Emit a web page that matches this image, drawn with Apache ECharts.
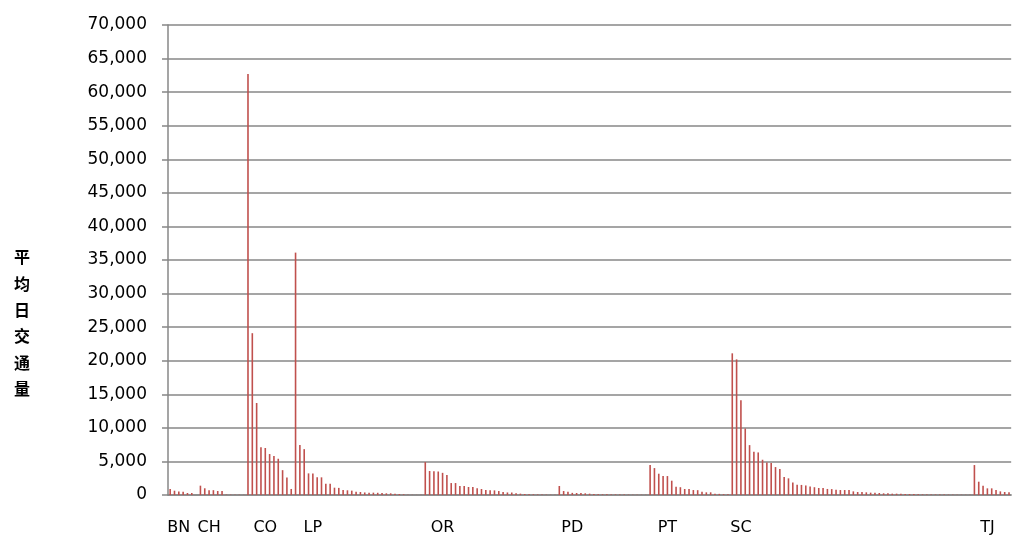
<!DOCTYPE html>
<html>
<head>
<meta charset="utf-8">
<script src="https://cdn.jsdelivr.net/npm/echarts@6/dist/echarts.min.js"></script>
<style>
  html, body { margin: 0; padding: 0; background: #fff; }
  #chart { width: 1012px; height: 536px; }
</style>
</head>
<body>
<div id="chart"></div>
<script>
// values per area, in category order (average daily traffic)
var bnValues = [890, 640, 520, 500, 300, 300, 0];
var chValues = [1390, 1000, 720, 720, 600, 600, 60, 50, 40, 40, 30];
var coValues = [62700, 24100, 13700, 7100, 7000, 6100, 5800, 5400, 3700, 2600, 900];
var lpValues = [36100, 7430, 6830, 3220, 3220, 2630, 2630, 1680, 1680, 1090, 1060, 740, 700, 650,
  470, 450, 380, 350, 350, 330, 300, 250, 250, 200, 150, 100, 40, 30, 20, 20];
var orValues = [4900, 3570, 3520, 3500, 3300, 2970, 1780, 1780, 1340, 1340, 1190, 1190, 990, 890,
  740, 690, 690, 590, 450, 380, 370, 250, 200, 150, 120, 100, 80, 60, 50, 40, 30];
var pdValues = [1340, 590, 500, 320, 300, 300, 250, 200, 150, 120, 100, 100, 80, 80, 60, 60, 50,
  50, 40, 40, 30];
var ptValues = [4460, 4010, 3170, 2820, 2820, 2130, 1240, 1160, 890, 890, 740, 720, 500, 400, 400,
  180, 170, 120, 100];
var scValues = [21100, 20200, 14100, 9900, 7430, 6440, 6340, 5250, 4850, 4750, 4160, 3860, 2670,
  2480, 1880, 1520, 1500, 1420, 1260, 1160, 1040, 1040, 900, 880, 790, 740, 740, 740, 540, 450,
  450, 400, 350, 350, 300, 250, 250, 200, 200, 200, 150, 150, 150, 100, 90, 80, 80, 70, 60, 60,
  50, 50, 40, 40, 30, 30];
var tjValues = [4460, 1980, 1390, 990, 990, 740, 540, 450, 400];

var groupNames = ['BN', 'CH', 'CO', 'LP', 'OR', 'PD', 'PT', 'SC', 'TJ'];
var groupValues = [bnValues, chValues, coValues, lpValues, orValues, pdValues, ptValues, scValues, tjValues];
// which category inside each group carries the group name
var labelSlot = [2, 2, 4, 4, 4, 3, 4, 2, 3];

var categories = [];
var values = [];
groupValues.forEach(function(g, gi) {
  g.forEach(function(v, i) {
    categories.push(i === labelSlot[gi] ? groupNames[gi] : '');
    values.push(v);
  });
});

var yTitle = '平均日交通量';

var chart = echarts.init(document.getElementById('chart'), null, { renderer: 'canvas' });
chart.setOption({
  animation: false,
  grid: { left: 168, right: 0, top: 25, bottom: 40 },
  graphic: [{
    type: 'text',
    left: 14,
    top: 244,
    style: {
      text: yTitle.split('').join('\n'),
      fontFamily: 'Noto Sans CJK SC',
      fontWeight: 'bold',
      fontSize: 16,
      lineHeight: 26.4,
      fill: '#000'
    }
  }],
  xAxis: {
    type: 'category',
    data: categories,
    axisLine: { lineStyle: { color: '#878787', width: 1.5 } },
    axisTick: { show: false },
    axisLabel: {
      interval: 0,
      color: '#000',
      fontFamily: 'DejaVu Sans',
      fontSize: 16,
      margin: 25
    }
  },
  yAxis: {
    type: 'value',
    min: 0,
    max: 70000,
    interval: 5000,
    axisLine: { show: true, lineStyle: { color: '#878787', width: 1.5 } },
    axisTick: { show: true, length: 6, lineStyle: { color: '#878787', width: 1.5 } },
    axisLabel: {
      color: '#000',
      fontFamily: 'DejaVu Sans',
      fontSize: 17,
      margin: 21,
      formatter: function(v) { return v.toLocaleString('en-US'); }
    },
    splitLine: { lineStyle: { color: '#878787', width: 1.5 } }
  },
  series: [{
    type: 'bar',
    data: values,
    barWidth: 1.6,
    itemStyle: { color: '#C0504D' }
  }]
});
</script>
</body>
</html>
